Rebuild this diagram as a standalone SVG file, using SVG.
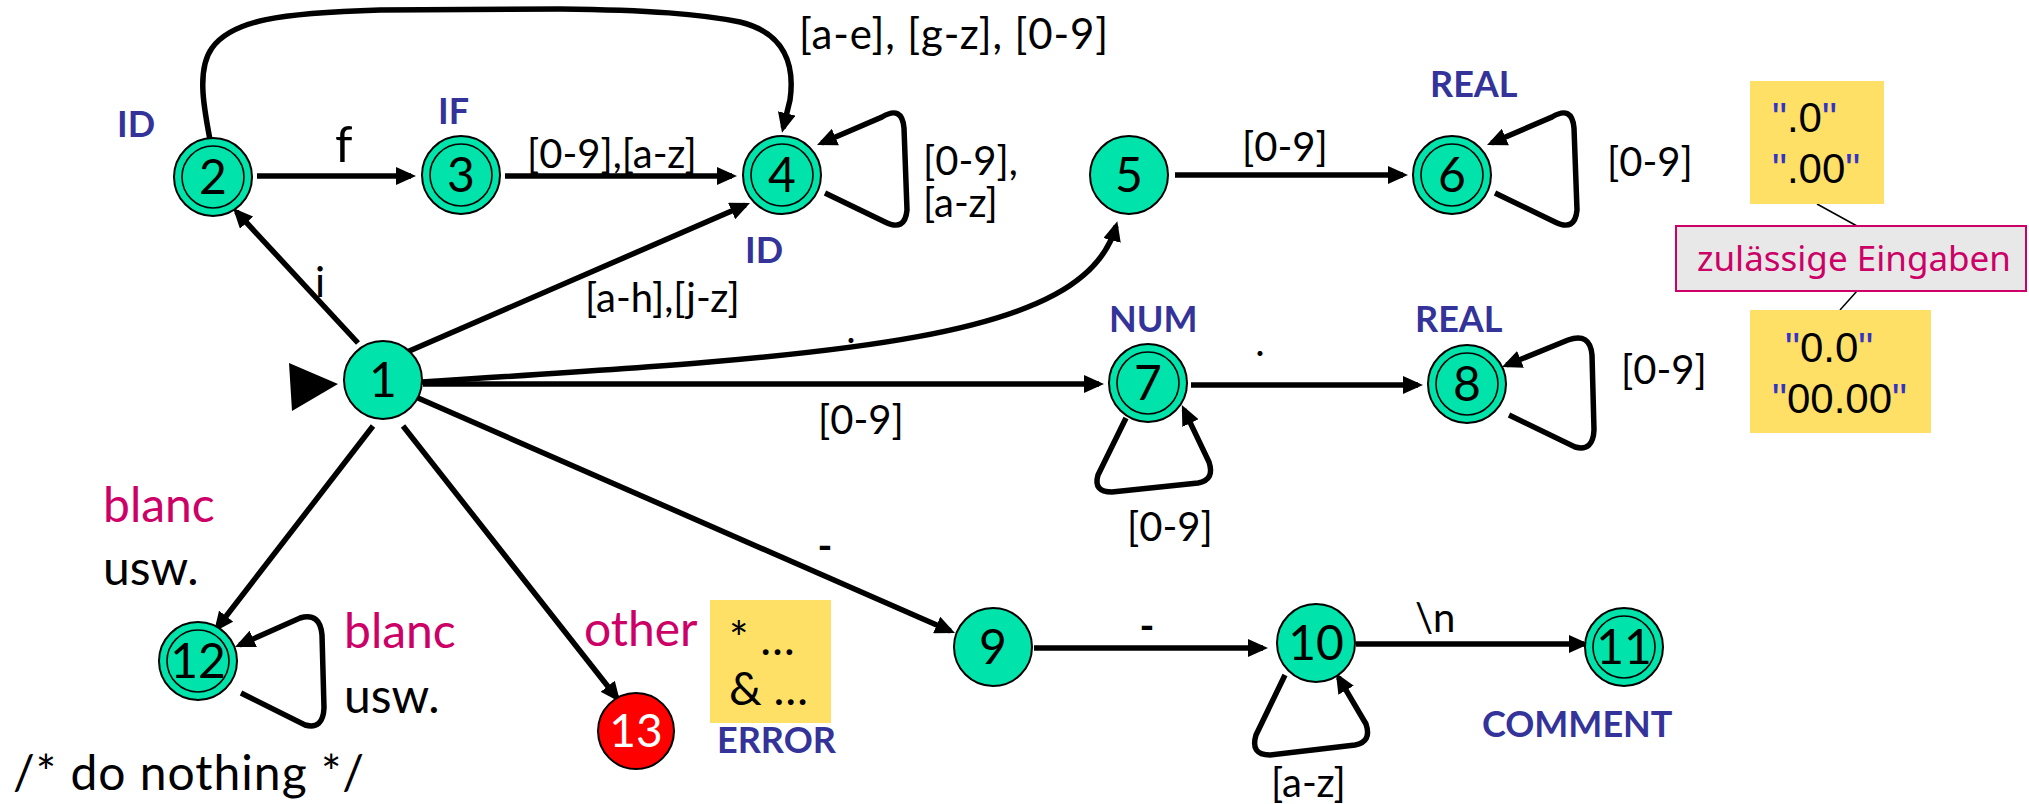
<svg xmlns="http://www.w3.org/2000/svg" width="2029" height="804" viewBox="0 0 2029 804">
<style>
.n{fill:#00E3AA;stroke:#000;stroke-width:2}
.in{fill:none;stroke:#000;stroke-width:1.6}
.err{fill:#FF0000;stroke:#000;stroke-width:2}
.num{font-family:Lato,'Liberation Sans',sans-serif;font-size:48px;text-anchor:middle;fill:#000}
.e{fill:none;stroke:#000;stroke-width:5.5;marker-end:url(#ah)}
.lbl{font-family:Lato,'Liberation Sans',sans-serif;font-size:40px;fill:#000}
.big{font-family:Lato,'Liberation Sans',sans-serif;font-size:48px;fill:#000}
.pink{fill:#CC0066}
.tok{font-family:Lato,'Liberation Sans',sans-serif;font-weight:bold;font-size:36px;fill:#333399}
.q{font-family:'Liberation Sans',Arial,sans-serif;font-size:42px;fill:#000}
.qb{fill:#3333CC}
.note{fill:#FFE066}
.thin{stroke:#000;stroke-width:1.5;fill:none}
</style>
<defs>
<marker id="ah" markerUnits="userSpaceOnUse" markerWidth="21" markerHeight="18" viewBox="0 0 21 18" refX="15" refY="9" orient="auto">
<path d="M0,0 L20,9 L0,18 z" fill="#000"/>
</marker>
</defs>

<g id="connectors">
<polygon points="289,363 338,384 292,411" fill="#000"/>
<path class="e" d="M358,343 L236.4,211.7"/>
<path class="e" d="M257,176 L411,176"/>
<path class="e" d="M505,176 L732,176"/>
<path class="e" d="M407,352 L745.4,205"/>
<path class="e" d="M212,150 C204,110 196,70 212,48 C232,20 280,13 380,10 L560,9 C650,10 700,14 740,22 C785,33 795,65 790,100 L783.2,128"/>
<path class="e" d="M825,193 L885,222 Q905,232 907,210 L904,128 Q902,105 882,117 L821.6,143"/>
<path class="e" d="M422,382 C850,355 1085,340 1116,226"/>
<path class="e" d="M1175,175 L1403,175"/>
<path class="e" d="M1495,193 L1555,222 Q1575,232 1577,210 L1574,128 Q1572,105 1552,117 L1491.6,143"/>
<path class="e" d="M423,384 L1099,384"/>
<path class="e" d="M1191,385 L1418,385"/>
<path class="e" d="M1126,418 L1098,475 Q1093,492 1112,492 L1198,483 Q1215,480 1209,462 L1184,409.6"/>
<path class="e" d="M1509,415 L1575,447 Q1593,452 1594,430 L1592,355 Q1590,332 1568,340 L1506.6,365"/>
<path class="e" d="M373,426 L217,628"/>
<path class="e" d="M241,693 L305,725 Q323,730 324,708 L322,635 Q320,612 300,618 L239.6,645"/>
<path class="e" d="M403,426 L617,698"/>
<path class="e" d="M418,398 L950.4,631"/>
<path class="e" d="M1034,648 L1263,648"/>
<path class="e" d="M1285,675 L1256,735 Q1250,755 1270,755 L1355,745 Q1372,742 1366,724 L1338.5,677.3"/>
<path class="e" d="M1356,644 L1584,644"/>
<line class="thin" x1="1817" y1="204" x2="1857" y2="226"/>
<line class="thin" x1="1857" y1="291" x2="1840" y2="310"/>
</g>

<g id="edge-labels">
<text class="big" x="335" y="162" style="font-size:50px">f</text>
<text class="lbl" x="315" y="297" style="font-size:42px">i</text>
<text class="lbl" x="527" y="168">[0-9],[a-z]</text>
<text class="lbl" x="585" y="312">[a-h],[j-z]</text>
<text class="lbl" x="799" y="49" style="font-size:42px" textLength="309">[a-e], [g-z], [0-9]</text>
<text class="lbl"><tspan x="923" y="175">[0-9],</tspan><tspan x="923" y="217">[a-z]</tspan></text>
<text class="lbl" x="1242" y="161">[0-9]</text>
<text class="lbl" x="1607" y="176">[0-9]</text>
<text class="lbl" x="818" y="434">[0-9]</text>
<text class="lbl" x="1621" y="384">[0-9]</text>
<text class="lbl" x="1127" y="541">[0-9]</text>
<text class="lbl" x="1271" y="797">[a-z]</text>
<text class="lbl" x="1415" y="632">\n</text>
<text class="lbl" x="851" y="343" text-anchor="middle">.</text>
<text class="lbl" x="1260" y="356" text-anchor="middle">.</text>
<text class="lbl" x="825" y="560" text-anchor="middle" style="font-weight:bold">-</text>
<text class="lbl" x="1147" y="640" text-anchor="middle" style="font-weight:bold">-</text>
<text class="big pink" x="103" y="522">blanc</text>
<text class="big" x="103" y="585">usw.</text>
<text class="big pink" x="344" y="648">blanc</text>
<text class="big" x="344" y="713">usw.</text>
<text class="big pink" x="584" y="646">other</text>
<text class="big" x="13" y="790" textLength="351">/* do nothing */</text>
</g>

<g id="tokens">
<text class="tok" x="117" y="137">ID</text>
<text class="tok" x="438" y="124">IF</text>
<text class="tok" x="745" y="263">ID</text>
<text class="tok" x="1430" y="97">REAL</text>
<text class="tok" x="1109" y="332">NUM</text>
<text class="tok" x="1415" y="332">REAL</text>
<text class="tok" x="717" y="753">ERROR</text>
<text class="tok" x="1482" y="737">COMMENT</text>
</g>

<g id="node1"><circle class="n" cx="383" cy="380" r="39"/><text class="num" x="383" y="397">1</text></g>
<g id="node2"><circle class="n" cx="213" cy="177" r="39"/><circle class="in" cx="213" cy="177" r="31"/><text class="num" x="213" y="194">2</text></g>
<g id="node3"><circle class="n" cx="461" cy="175" r="39"/><circle class="in" cx="461" cy="175" r="31"/><text class="num" x="461" y="192">3</text></g>
<g id="node4"><circle class="n" cx="782" cy="175" r="39"/><circle class="in" cx="782" cy="175" r="31"/><text class="num" x="782" y="192">4</text></g>
<g id="node5"><circle class="n" cx="1129" cy="175" r="39"/><text class="num" x="1129" y="192">5</text></g>
<g id="node6"><circle class="n" cx="1452" cy="175" r="39"/><circle class="in" cx="1452" cy="175" r="31"/><text class="num" x="1452" y="192">6</text></g>
<g id="node7"><circle class="n" cx="1148" cy="383" r="39"/><circle class="in" cx="1148" cy="383" r="31"/><text class="num" x="1148" y="400">7</text></g>
<g id="node8"><circle class="n" cx="1467" cy="384" r="39"/><circle class="in" cx="1467" cy="384" r="31"/><text class="num" x="1467" y="401">8</text></g>
<g id="node9"><circle class="n" cx="993" cy="647" r="39"/><text class="num" x="993" y="664">9</text></g>
<g id="node10"><circle class="n" cx="1316" cy="643" r="39"/><text class="num" x="1316" y="660">10</text></g>
<g id="node11"><circle class="n" cx="1624" cy="647" r="39"/><circle class="in" cx="1624" cy="647" r="31"/><text class="num" x="1624" y="664">11</text></g>
<g id="node12"><circle class="n" cx="198" cy="661" r="39"/><circle class="in" cx="198" cy="661" r="31"/><text class="num" x="198" y="678">12</text></g>
<g id="node13"><circle class="err" cx="636" cy="731" r="38"/><text class="num" x="636" y="747" style="fill:#fff;font-size:46px">13</text></g>

<g id="error-note">
<rect class="note" x="710" y="600" width="121" height="123"/>
<text class="lbl" style="font-size:46px"><tspan x="729" y="655">* …</tspan><tspan x="729" y="705">&amp; …</tspan></text>
</g>

<g id="note-real1">
<rect class="note" x="1750" y="81" width="134" height="123"/>
<text class="q"><tspan x="1772" y="132"><tspan class="qb">"</tspan>.0<tspan class="qb">"</tspan></tspan><tspan x="1772" y="183"><tspan class="qb">"</tspan>.00<tspan class="qb">"</tspan></tspan></text>
</g>
<g id="note-label">
<rect x="1676" y="226" width="350" height="65" fill="#E8E8E8" stroke="#CC0066" stroke-width="2"/>
<text x="1697" y="271" font-family="'Noto Sans',sans-serif" font-size="35" fill="#CC0066" textLength="314" lengthAdjust="spacingAndGlyphs">zulässige Eingaben</text>
</g>
<g id="note-real2">
<rect class="note" x="1750" y="310" width="181" height="123"/>
<text class="q"><tspan x="1785" y="362"><tspan class="qb">"</tspan>0.0<tspan class="qb">"</tspan></tspan><tspan x="1772" y="413"><tspan class="qb">"</tspan>00.00<tspan class="qb">"</tspan></tspan></text>
</g>
</svg>
